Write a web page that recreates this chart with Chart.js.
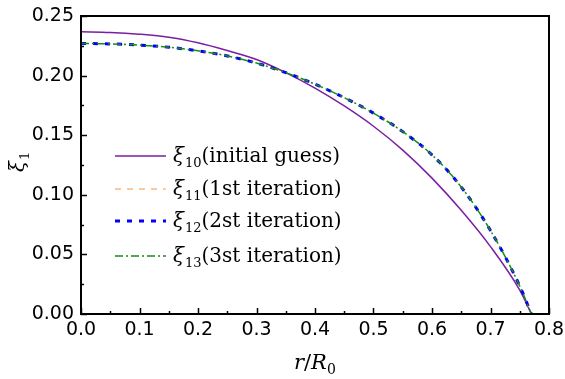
<!DOCTYPE html>
<html>
<head>
<meta charset="utf-8">
<script src="https://cdn.jsdelivr.net/npm/chart.js@4.4.0/dist/chart.umd.min.js"></script>
<style>
  html, body { margin: 0; padding: 0; background: #fff; }
  #wrap { width: 565px; height: 379px; }
</style>
</head>
<body>
<div id="wrap"><canvas id="chart" width="565" height="379"></canvas></div>
<script>
// radius values (r / R0)
const rVals = [0, 0.05, 0.1, 0.15, 0.2, 0.25, 0.3, 0.35, 0.4, 0.45, 0.5, 0.55, 0.6, 0.65, 0.7, 0.75, 0.77];

// xi_10 initial guess
const xi10 = [0.2368, 0.2362, 0.2347, 0.2322, 0.2275, 0.2210, 0.2135, 0.2025, 0.1895, 0.1745, 0.1575, 0.1375, 0.1140, 0.0870, 0.0565, 0.0200, 0];
// xi_11 .. xi_13 iterations (they overlap on the plot)
const xi11 = [0.2270, 0.2266, 0.2256, 0.2238, 0.2208, 0.2165, 0.2105, 0.2025, 0.1928, 0.1815, 0.1685, 0.1530, 0.1335, 0.1065, 0.0700, 0.0235, 0];
const xi12 = [0.2270, 0.2266, 0.2256, 0.2238, 0.2208, 0.2165, 0.2105, 0.2025, 0.1928, 0.1815, 0.1685, 0.1530, 0.1335, 0.1065, 0.0700, 0.0235, 0];
const xi13 = [0.2270, 0.2266, 0.2256, 0.2238, 0.2208, 0.2165, 0.2105, 0.2025, 0.1928, 0.1815, 0.1685, 0.1530, 0.1335, 0.1065, 0.0700, 0.0235, 0];

const xTicks = [0, 0.1, 0.2, 0.3, 0.4, 0.5, 0.6, 0.7, 0.8];
const yTicks = [0, 0.05, 0.1, 0.15, 0.2, 0.25];

const seriesSubs = ['10', '11', '12', '13'];
const seriesNotes = ['(initial guess)', '(1st iteration)', '(2st iteration)', '(3st iteration)'];
const seriesColors = ['#7a1fa0', '#f4b06e', '#0000ff', '#1a8a1a'];
const seriesDash = [[], [6, 6], [5, 7], [8, 3, 2, 3]];
const seriesWidth = [1.5, 1.3, 3, 1.5];

function toPoints(ys) {
    return rVals.map((r, i) => ({ x: r, y: ys[i] }));
}

const SERIF = '"DejaVu Serif", "Liberation Serif", serif';
const SANS = '"DejaVu Sans", sans-serif';

// draw "ξ" + subscript + rest at x, baseline y
function drawXiLabel(ctx, x, y, sub, rest) {
    ctx.textAlign = 'left';
    ctx.textBaseline = 'alphabetic';
    ctx.fillStyle = '#000';
    ctx.font = 'italic 20px ' + SERIF;
    ctx.fillText('ξ', x, y);
    x += ctx.measureText('ξ').width + 1;
    ctx.font = '13px ' + SERIF;
    ctx.fillText(sub, x, y + 5);
    x += ctx.measureText(sub).width;
    ctx.font = '20px ' + SERIF;
    ctx.fillText(rest, x, y);
}

const decorPlugin = {
    id: 'decor',
    afterDraw(chart) {
        const ctx = chart.ctx;
        const area = chart.chartArea;
        const xs = chart.scales.x;
        const ys = chart.scales.y;
        ctx.save();

        // inward ticks on bottom and left axes
        ctx.strokeStyle = '#000';
        ctx.lineWidth = 1.5;
        for (let v = 0; v <= 0.8001; v += 0.05) {
            const px = Math.round(xs.getPixelForValue(v)) + 0.5;
            const major = Math.abs(v * 10 - Math.round(v * 10)) < 1e-6;
            ctx.beginPath();
            ctx.moveTo(px, area.bottom);
            ctx.lineTo(px, area.bottom - (major ? 6 : 3));
            ctx.stroke();
        }
        for (let v = 0; v <= 0.2501; v += 0.025) {
            const py = Math.round(ys.getPixelForValue(v)) + 0.5;
            const major = Math.abs(v * 20 - Math.round(v * 20)) < 1e-6;
            ctx.beginPath();
            ctx.moveTo(area.left, py);
            ctx.lineTo(area.left + (major ? 6 : 3), py);
            ctx.stroke();
        }

        // frame
        ctx.lineWidth = 2;
        ctx.strokeRect(area.left, area.top, area.right - area.left, area.bottom - area.top);

        // legend
        const rows = [156, 189, 221, 256];
        rows.forEach((ry, i) => {
            ctx.strokeStyle = seriesColors[i];
            ctx.lineWidth = seriesWidth[i];
            ctx.setLineDash(seriesDash[i]);
            ctx.beginPath();
            ctx.moveTo(115, ry);
            ctx.lineTo(166, ry);
            ctx.stroke();
            ctx.setLineDash([]);
            drawXiLabel(ctx, 173, ry + 6, seriesSubs[i], seriesNotes[i]);
        });

        // x axis title: r/R0
        ctx.fillStyle = '#000';
        ctx.textBaseline = 'alphabetic';
        ctx.textAlign = 'left';
        let tx = 294;
        const ty = 369;
        ctx.font = 'italic 21px ' + SERIF;
        ctx.fillText('r', tx, ty);
        tx += ctx.measureText('r').width;
        ctx.font = '21px ' + SERIF;
        ctx.fillText('/', tx, ty);
        tx += ctx.measureText('/').width;
        ctx.font = 'italic 21px ' + SERIF;
        ctx.fillText('R', tx, ty);
        tx += ctx.measureText('R').width;
        ctx.font = '14px ' + SERIF;
        ctx.fillText('0', tx, ty + 5);

        // y axis title: xi_1 rotated
        ctx.translate(24, 172);
        ctx.rotate(-Math.PI / 2);
        ctx.font = 'italic 20px ' + SERIF;
        ctx.fillText('ξ', 0, 0);
        const w = ctx.measureText('ξ').width;
        ctx.font = '13px ' + SERIF;
        ctx.fillText('1', w + 1, 5);

        ctx.restore();
    }
};

const datasets = [xi10, xi11, xi12, xi13].map((ys, i) => ({
    label: 'xi1' + seriesSubs[i],
    data: toPoints(ys),
    borderColor: seriesColors[i],
    borderWidth: seriesWidth[i],
    borderDash: seriesDash[i],
    pointRadius: 0,
    fill: false,
    cubicInterpolationMode: 'monotone',
    order: 4 - i
}));

new Chart(document.getElementById('chart').getContext('2d'), {
    type: 'line',
    data: { datasets: datasets },
    options: {
        responsive: false,
        animation: false,
        devicePixelRatio: 1,
        layout: { padding: { top: 16, right: 16, left: 0, bottom: 0 } },
        plugins: {
            legend: { display: false },
            tooltip: { enabled: false }
        },
        scales: {
            x: {
                type: 'linear',
                min: 0,
                max: 0.8,
                afterBuildTicks: (scale) => { scale.ticks = xTicks.map(v => ({ value: v })); },
                afterFit: (scale) => { scale.height = 65; scale.paddingLeft = 0; scale.paddingRight = 0; },
                grid: { display: false, drawTicks: false },
                border: { display: false },
                ticks: {
                    padding: 5,
                    color: '#000',
                    font: { family: SANS, size: 19 },
                    maxRotation: 0,
                    callback: (v) => Number(v).toFixed(1)
                }
            },
            y: {
                type: 'linear',
                min: 0,
                max: 0.25,
                afterBuildTicks: (scale) => { scale.ticks = yTicks.map(v => ({ value: v })); },
                afterFit: (scale) => { scale.width = 81; scale.paddingTop = 0; scale.paddingBottom = 0; },
                grid: { display: false, drawTicks: false },
                border: { display: false },
                ticks: {
                    padding: 7,
                    color: '#000',
                    font: { family: SANS, size: 19 },
                    callback: (v) => Number(v).toFixed(2)
                }
            }
        }
    },
    plugins: [decorPlugin]
});
</script>
</body>
</html>
